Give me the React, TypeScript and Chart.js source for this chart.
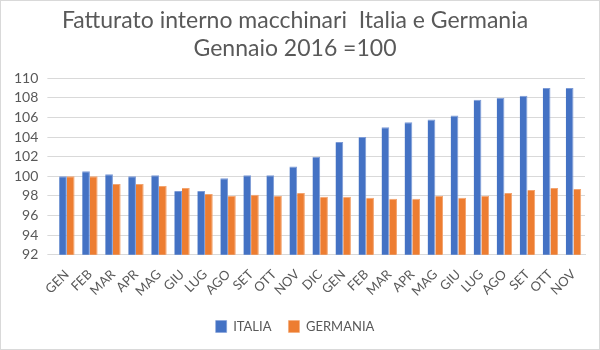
import React, { useEffect, useRef } from "react";
import { Chart, registerables } from "chart.js";

Chart.register(...registerables);

const categories = ["GEN","FEB","MAR","APR","MAG","GIU","LUG","AGO","SET","OTT","NOV","DIC","GEN","FEB","MAR","APR","MAG","GIU","LUG","AGO","SET","OTT","NOV"];
const italia = [100,100.5,100.2,100,100.1,98.5,98.5,99.8,100.1,100.1,101,102,103.5,104,105,105.5,105.8,106.2,107.8,108,108.2,109,109];
const germania = [100,100,99.2,99.2,99,98.8,98.2,98,98.1,98,98.3,97.9,97.9,97.8,97.7,97.7,98,97.8,98,98.3,98.6,98.8,98.7];
const titleLines = ["Fatturato interno macchinari  Italia e Germania", "Gennaio 2016 =100"];

const FONT = "Lato, 'Open Sans', sans-serif";
const GREY = "#595959";

export default function App() {
  const ref = useRef<HTMLCanvasElement>(null);
  useEffect(() => {
    const chart = new Chart(ref.current!, {
      type: "bar",
      data: {
        labels: categories,
        datasets: [
          { label: "ITALIA", data: italia, backgroundColor: "#4472C4", borderColor: "#7d9bd6", borderWidth: { top: 1, left: 0, right: 1, bottom: 0 } as any },
          { label: "GERMANIA", data: germania, backgroundColor: "#ED7D31", borderColor: "#f3a46f", borderWidth: { top: 1, left: 0, right: 1, bottom: 0 } as any },
        ],
      },
      options: {
        responsive: false,
        animation: false,
        layout: { padding: { left: 4, right: 14, top: 4, bottom: 6 } },
        datasets: { bar: { categoryPercentage: 0.67, barPercentage: 1 } },
        plugins: {
          title: {
            display: true,
            text: titleLines,
            color: GREY,
            font: { family: FONT, size: 23, weight: "normal" },
            padding: { top: 2, bottom: 16 },
            lineHeight: 1.25,
          },
          legend: {
            position: "bottom",
            labels: {
              color: GREY,
              font: { family: FONT, size: 13 },
              boxWidth: 11,
              boxHeight: 12,
              padding: 17,
            },
          },
          tooltip: { enabled: false },
        },
        scales: {
          x: {
            grid: { display: false },
            border: { color: "#d9d9d9" },
            ticks: { color: GREY, font: { family: FONT, size: 13 }, minRotation: 45, maxRotation: 45, padding: 4, autoSkip: false },
          },
          y: {
            min: 92,
            max: 110,
            ticks: { stepSize: 2, autoSkip: false, color: GREY, font: { family: FONT, size: 14 }, padding: 9 },
            grid: { color: "#d9d9d9", lineWidth: 1 },
            border: { display: false },
          },
        },
      },
    });
    return () => chart.destroy();
  }, []);
  return (
    <div style={{ position: "fixed", left: 0, top: 0, width: 600, height: 350, boxSizing: "border-box", border: "1px solid #d9d9d9", background: "#fff" }}>
      <canvas ref={ref} width={598} height={348} />
    </div>
  );
}
